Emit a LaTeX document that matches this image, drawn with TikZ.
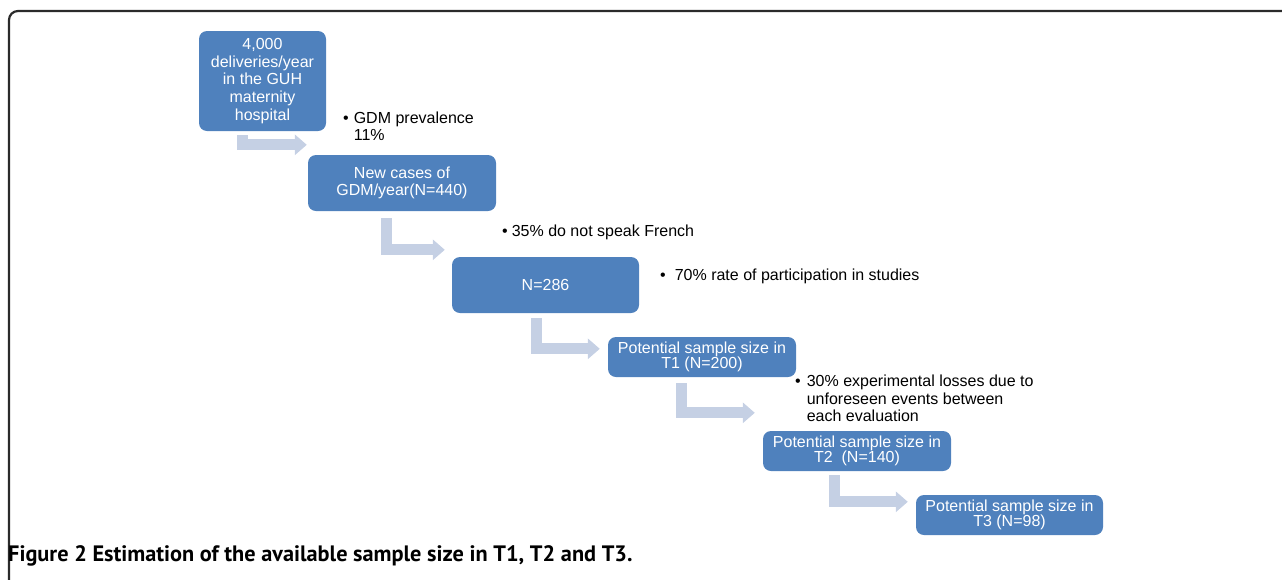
\documentclass[tikz,border=0pt]{standalone}
\usepackage{fontspec}
\setmainfont{Liberation Sans}
\newfontfamily\capfont{PT Sans}
\usepackage{tikz}
\usetikzlibrary{arrows.meta}

\definecolor{boxblue}{HTML}{4F81BD}
\definecolor{arrowblue}{HTML}{C5D0E4}
\definecolor{framegrey}{HTML}{2B2B2B}

\begin{document}
\begin{tikzpicture}[x=1pt,y=-1pt,
box/.style={fill=boxblue, rounded corners=8pt, text=white, align=center, inner sep=0pt,
  minimum width=188pt, minimum height=40pt, font=\fontsize{16}{15.5}\selectfont},
bentarrow/.style={draw=arrowblue, line width=11pt, line join=miter,
  -{Triangle[length=12pt,width=20pt]}},
note/.style={anchor=west, inner sep=0pt, align=left, font=\fontsize{16}{17.5}\selectfont}]

\useasboundingbox (0,0) rectangle (1282,579);

% frame
\draw[framegrey, line width=2.2pt, rounded corners=9pt] (9,590) -- (9,11) -- (1295,11);

% boxes
\node[box, minimum width=127pt, minimum height=100pt, font=\fontsize{16}{17.7}\selectfont] (deliv) at (262.5,81) {4,000\\deliveries/year\\in the GUH\\maternity\\hospital};
\node[box, minimum height=56pt, font=\fontsize{16}{17}\selectfont] (newcases) at (402,183) {New cases of\\GDM/year(N=440)};
\node[box, minimum width=187pt, minimum height=56pt] (nfrench) at (545.5,285) {N=286};
\node[box] (tone) at (702,357) {Potential sample size in\\T1 (N=200)};
\node[box] (ttwo) at (857,451) {Potential sample size in\\T2~~(N=140)};
\node[box, minimum width=187pt] (tthree) at (1009.5,515) {Potential sample size in\\T3 (N=98)};

% notes
\node[note] (prev) at (343,128.5) {\begin{tabular}{@{}l@{\hspace{5pt}}l@{}}\textbullet & GDM prevalence\\ & 11\%\end{tabular}};
\node[note] (lang) at (502,232) {\textbullet\hspace{4pt}35\% do not speak French};
\node[note] (part) at (660,276) {\textbullet\hspace{9pt}70\% rate of participation in studies};
\node[note] (loss) at (795,400.5) {\begin{tabular}{@{}l@{\hspace{6pt}}l@{}}\textbullet & 30\% experimental losses due to\\ & unforeseen events between\\ & each evaluation\end{tabular}};

% arrows
\draw[bentarrow] ([xshift=44pt,yshift=-4pt]deliv.south west) |- ([xshift=-1pt,yshift=10pt]newcases.north west);
\draw[bentarrow] ([xshift=79pt,yshift=-7pt]newcases.south west) |- ([xshift=-7pt,yshift=7pt]nfrench.north west);
\draw[bentarrow] ([xshift=85pt,yshift=-5pt]nfrench.south west) |- ([xshift=-8pt,yshift=-12pt]tone.north west);
\draw[bentarrow] ([xshift=73.5pt,yshift=-6pt]tone.south west) |- ([xshift=-8pt,yshift=18pt]ttwo.north west);
\draw[bentarrow] ([xshift=72pt,yshift=-4pt]ttwo.south west) |- ([xshift=-8pt,yshift=-7pt]tthree.north west);

% caption
\node[anchor=base west, inner sep=0pt, font=\capfont\bfseries\fontsize{22.3}{26}\selectfont] (caption) at (8,561) {Figure 2 Estimation of the available sample size in T1, T2 and T3.};
\end{tikzpicture}
\end{document}
